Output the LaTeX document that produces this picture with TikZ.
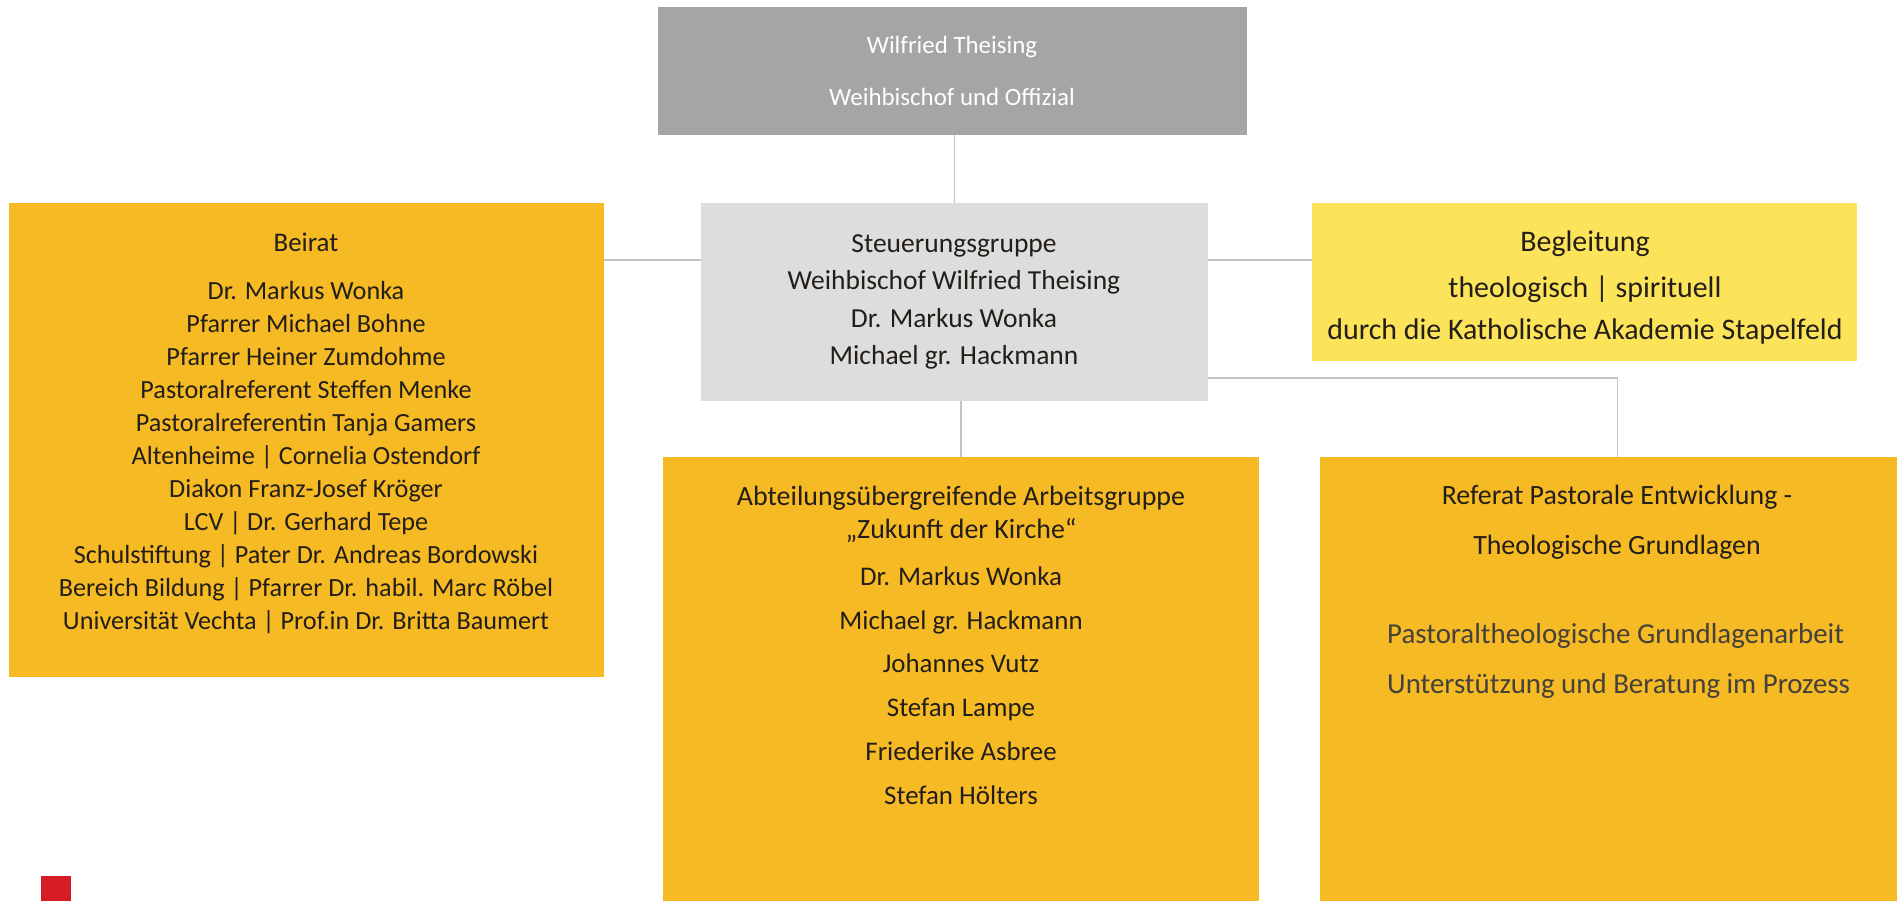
\documentclass[tikz,border=0pt]{standalone}
\usepackage{fontspec}
\setmainfont{Carlito}
\usetikzlibrary{positioning,calc}

\definecolor{amber}{RGB}{245,186,36}
\definecolor{lemon}{RGB}{252,228,90}
\definecolor{bishopgray}{RGB}{165,165,165}
\definecolor{steergray}{RGB}{221,221,221}
\definecolor{linegray}{RGB}{195,195,195}
\definecolor{txtdark}{RGB}{35,30,25}
\definecolor{logored}{RGB}{214,28,36}

\newcommand{\fs}[1]{\fontsize{#1}{#1}\selectfont}

\begin{document}
\begin{tikzpicture}[x=1bp,y=-1bp,
    box/.style={inner sep=0pt, anchor=north west},
    txt/.style={inner sep=0pt, text height=0.7em, text depth=0.2em, text=txtdark},
    link/.style={draw=linegray, line width=1.5bp}]
  \useasboundingbox (0,0) rectangle (1897,901);
  \clip (0,0) rectangle (1897,901);

  % boxes
  \node[box, fill=bishopgray, minimum width=589bp, minimum height=128bp] (bischof) at (658,7) {};
  \node[box, fill=steergray, minimum width=507bp, minimum height=198bp] (steuerung) at (701,203) {};
  \node[box, fill=amber, minimum width=595bp, minimum height=474bp] (beirat) at (9,203) {};
  \node[box, fill=lemon, minimum width=545bp, minimum height=158bp] (begleitung) at (1312,203) {};
  \node[box, fill=amber, minimum width=596bp, minimum height=470bp] (arbeitsgruppe) at (663,457) {};
  \node[box, fill=amber, minimum width=595bp, minimum height=470bp] (referat) at (1320,457) {};

  % connectors
  \draw[link] (steuerung.north) -- (steuerung.north |- bischof.south);
  \draw[link] ([yshift=42bp]steuerung.west) -- ([yshift=42bp]steuerung.west -| beirat.east);
  \draw[link] ([yshift=42bp]steuerung.east) -- ([yshift=42bp]steuerung.east -| begleitung.west);
  \draw[link] (arbeitsgruppe.north) -- (arbeitsgruppe.north |- steuerung.south);
  \draw[link] ([yshift=-76bp]steuerung.east) -| (referat.north);

  % texts
  \node[txt, text=white, font=\fs{25}] (bischof-name) at (952,51) {Wilfried Theising};
  \node[txt, text=white, font=\fs{25}] (bischof-amt) at (952,103) {Weihbischof und Offizial};

  \foreach \line [count=\i] in {Steuerungsgruppe, Weihbischof Wilfried Theising,
      Dr. Markus Wonka, Michael gr. Hackmann}
    \node[txt, font=\fs{27.6}] (steuerung-\i) at (954,{250+37.5*(\i-1)}) {\line};

  \node[txt, font=\fs{27}] (beirat-titel) at (306,249) {Beirat};
  \foreach \line [count=\i] in {Dr. Markus Wonka, Pfarrer Michael Bohne,
      Pfarrer Heiner Zumdohme, Pastoralreferent Steffen Menke,
      Pastoralreferentin Tanja Gamers, Altenheime | Cornelia Ostendorf,
      Diakon Franz-Josef Kröger, LCV | Dr. Gerhard Tepe,
      Schulstiftung | Pater Dr. Andreas Bordowski,
      Bereich Bildung | Pfarrer Dr. habil. Marc Röbel,
      Universität Vechta | Prof.in Dr. Britta Baumert}
    \node[txt, font=\fs{26.3}] (beirat-\i) at (306,{297+33*(\i-1)}) {\line};

  \node[txt, font=\fs{30}] (begleitung-1) at (1585,249) {Begleitung};
  \node[txt, font=\fs{30}] (begleitung-2) at (1585,295) {theologisch | spirituell};
  \node[txt, font=\fs{30}] (begleitung-3) at (1585,337) {durch die Katholische Akademie Stapelfeld};

  \node[txt, font=\fs{28}] (arbeitsgruppe-titel) at (961,503) {Abteilungsübergreifende Arbeitsgruppe};
  \node[txt, font=\fs{28}] (arbeitsgruppe-name) at (961,536) {„Zukunft der Kirche“};
  \foreach \line [count=\i] in {Dr. Markus Wonka, Michael gr. Hackmann, Johannes Vutz,
      Stefan Lampe, Friederike Asbree, Stefan Hölters}
    \node[txt, font=\fs{27}] (arbeitsgruppe-\i) at (961,{583+43.7*(\i-1)}) {\line};

  \node[txt, font=\fs{28}] (referat-1) at (1617,502) {Referat Pastorale Entwicklung -};
  \node[txt, font=\fs{28}] (referat-2) at (1617,552) {Theologische Grundlagen};
  \node[txt, font=\fs{29}, text=txtdark!85, anchor=west] (referat-3) at (1387,641) {Pastoraltheologische Grundlagenarbeit};
  \node[txt, font=\fs{29}, text=txtdark!85, anchor=west] (referat-4) at (1387,691) {Unterstützung und Beratung im Prozess};

  % logo
  \fill[logored] (41,876) rectangle (71,901);
\end{tikzpicture}
\end{document}
